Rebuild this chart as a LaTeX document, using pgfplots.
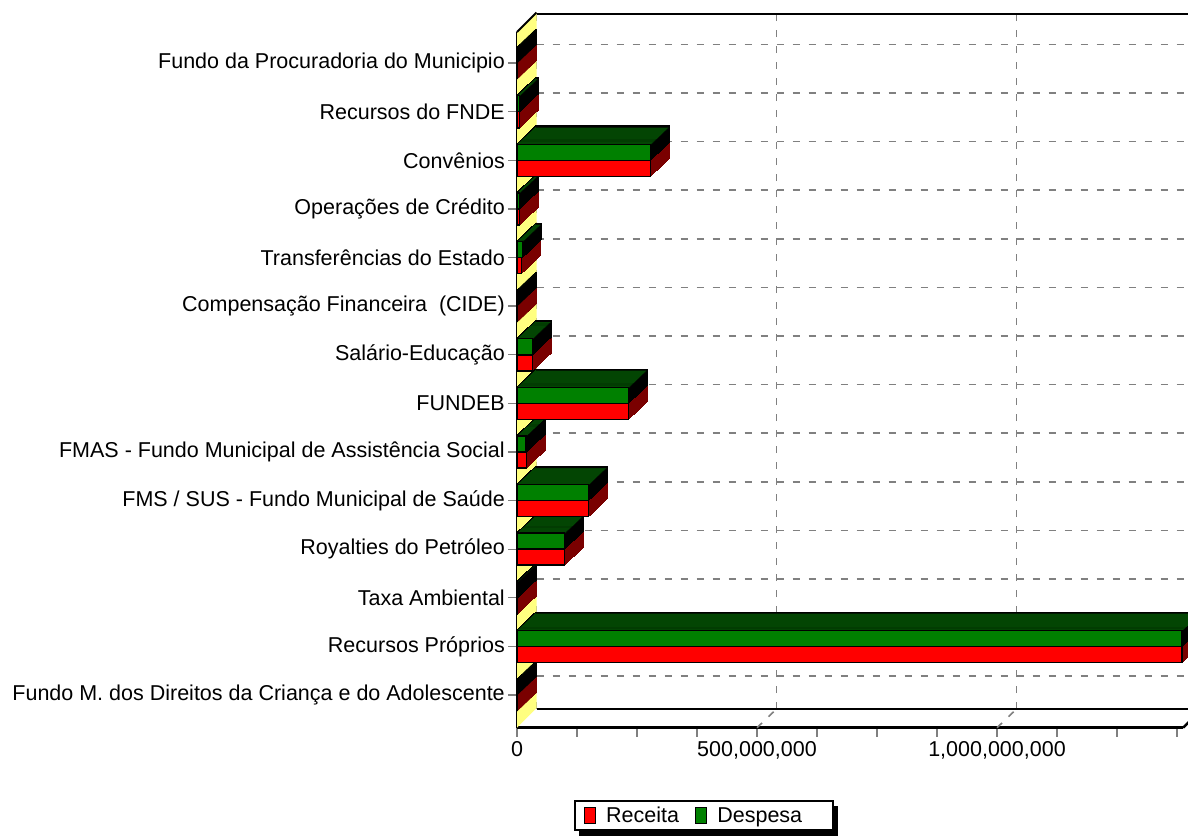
\documentclass[border=0pt]{standalone}
\usepackage{fontspec}
\setmainfont{Liberation Sans}
\usepackage{pgfplots}
\pgfplotsset{compat=1.18}
\usepackage{pgfplotstable}
\definecolor{rec}{HTML}{FF0000}
\definecolor{desp}{HTML}{008000}
\definecolor{recside}{HTML}{7A0000}
\definecolor{desptop}{HTML}{034503}
\definecolor{wall}{HTML}{FFFF80}
\definecolor{gridgray}{HTML}{808080}

% idx 0 = bottom category
\pgfplotstableread{
idx receita despesa
0  0          0
1  1385000000 1385000000
2  500000     1000000
3  98500000   98500000
4  148500000  148500000
5  20000000   18500000
6  232000000  232000000
7  32000000   32000000
8  0          0
9  9000000    11000000
10 5000000    5000000
11 278000000  278000000
12 5000000    5000000
13 0          0
}\data

\newcommand{\lblfont}{\fontsize{21.5}{25}\selectfont}

\begin{document}
\begin{tikzpicture}
\useasboundingbox (0pt,0pt) rectangle (1188pt,-835pt);
% ---------- back plane ----------
\begin{axis}[
  at={(536.5pt,-709pt)}, anchor=south west, scale only axis,
  width=666pt, height=695.7pt,
  xmin=0, xmax=1.3875e9, ymin=-0.673, ymax=13.64,
  axis line style={draw=none},
  xtick={0,5e8,1e9}, ytick={0,...,13},
  xticklabels={}, yticklabels={}, scaled x ticks=false,
  major tick length=0pt,
  grid=major,
  grid style={gridgray, line width=1.6pt, dash pattern=on 7pt off 9pt},
]
\addplot[draw=none, forget plot] coordinates {(0,0)};
\draw[line width=2.5pt] (rel axis cs:0,1) -- (rel axis cs:1.05,1);
\draw[line width=2.5pt] (rel axis cs:0,0) -- (rel axis cs:1.05,0);
\end{axis}
% shadow of the legend box
\fill[black] (579pt,-806pt) rectangle (838pt,-840pt);
% ---------- front plane with bars ----------
\begin{axis}[
  at={(517pt,-727.7pt)}, anchor=south west, scale only axis,
  width=666pt, height=695.7pt,
  xmin=0, xmax=1.3875e9, ymin=-0.673, ymax=13.64,
  clip=false,
  axis x line*=bottom, axis y line*=left,
  axis line style={-, line width=2.5pt, black},
  tick align=outside, major tick length=9pt,
  tick style={gridgray, line width=1.3pt},
  xtick={0,1.25e8,2.5e8,3.75e8,5e8,6.25e8,7.5e8,8.75e8,1e9,1.125e9,1.25e9,1.375e9},
  xticklabels={0,,,,{500,000,000},,,,{1,000,000,000},,,},
  scaled x ticks=false,
  ytick={0,...,13},
  yticklabels={
    Fundo M. dos Direitos da Criança e do Adolescente,
    Recursos Próprios,
    Taxa Ambiental,
    Royalties do Petróleo,
    FMS / SUS - Fundo Municipal de Saúde,
    FMAS - Fundo Municipal de Assistência Social,
    FUNDEB,
    Salário-Educação,
    Compensação Financeira\ \ (CIDE),
    Transferências do Estado,
    Operações de Crédito,
    Convênios,
    Recursos do FNDE,
    Fundo da Procuradoria do Municipio},
  yticklabel style={font=\lblfont, inner xsep=3pt},
  xticklabel style={font=\lblfont, inner ysep=5pt},
  legend columns=2,
  legend cell align=left,
  legend style={at={(axis description cs:0.0856,-0.1262)}, anchor=west,
    draw=black, line width=1.5pt, fill=white, font=\lblfont,
    inner xsep=9pt, inner ysep=4pt,
    /tikz/every even column/.append style={column sep=14pt}},
  legend image code/.code={\draw[#1, line width=1.2pt] (0pt,-8pt) rectangle (11pt,8pt); \path (19pt,0pt);},
]
% left wall
\fill[wall] (axis cs:0,-0.673) -- (axis cs:0,13.64) -- ++(19.5pt,19.5pt) -- ([shift={(19.5pt,19.5pt)}]axis cs:0,-0.673) -- cycle;
% extrusion of Receita (side face)
\pgfplotsinvokeforeach{1,...,19}{
  \addplot[forget plot, xbar, bar width=0.33, bar shift=-0.165,
    fill=recside, draw=recside, line width=1.6pt,
    xshift=#1*1pt, yshift=#1*0.947pt] table[x=receita, y=idx]{\data};
}
% extrusion of Despesa (side face, black)
\pgfplotsinvokeforeach{1,...,19}{
  \addplot[forget plot, xbar, bar width=0.33, bar shift=0.165,
    fill=black, draw=black, line width=1.6pt,
    xshift=#1*1pt, yshift=#1*0.947pt] table[x=despesa, y=idx]{\data};
}
% top face of Despesa
\pgfplotsinvokeforeach{0,...,18}{
  \addplot[forget plot, xbar, bar width=1.3pt, bar shift=0.32,
    fill=desptop, draw=none,
    xshift=#1*1pt, yshift=#1*0.947pt] table[x=despesa, y=idx]{\data};
}
\addplot[forget plot, xbar, bar width=1.5pt, bar shift=0.32,
    fill=black, draw=none,
    xshift=19pt, yshift=18pt] table[x=despesa, y=idx]{\data};
% front faces
\addplot[xbar, bar width=0.33, bar shift=-0.165, fill=rec, draw=black, line width=1.5pt]
  table[x=receita, y=idx]{\data};
\addlegendentry{Receita}
\addplot[xbar, bar width=0.33, bar shift=0.165, fill=desp, draw=black, line width=1.5pt]
  table[x=despesa, y=idx]{\data};
\addlegendentry{Despesa\hspace*{20pt}}
% edges of the box
\draw[line width=2pt] (axis cs:0,13.64) -- ++(19.5pt,19.5pt);
\draw[line width=2.5pt] (axis cs:1.3875e9,-0.673) -- ++(19.5pt,18.7pt);
\draw[gridgray, line width=1.6pt, dash pattern=on 7pt off 9pt] (axis cs:5e8,-0.673) -- ++(19.5pt,18.7pt);
\draw[gridgray, line width=1.6pt, dash pattern=on 7pt off 9pt] (axis cs:1e9,-0.673) -- ++(19.5pt,18.7pt);
\end{axis}
\end{tikzpicture}
\end{document}
